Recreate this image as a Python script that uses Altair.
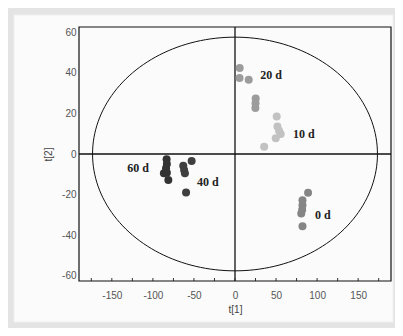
import altair as alt
import numpy as np
import pandas as pd

# ---- data ----
groups = ["20 d"] * 6 + ["10 d"] * 6 + ["0 d"] * 6 + ["60 d"] * 6 + ["40 d"] * 5
t1 = [5.7, 5.5, 16.7, 25.2, 25.0, 24.8,
      50.8, 51.7, 55.7, 49.6, 35.5, 53.7,
      89.0, 82.2, 82.2, 81.8, 80.7, 82.2,
      -83.3, -83.0, -86.6, -83.0, -81.2, -84.0,
      -63.0, -62.0, -61.0, -52.8, -59.6]
t2 = [42.3, 37.4, 36.5, 27.3, 25.0, 22.6,
      18.4, 13.5, 9.9, 7.7, 3.6, 11.5,
      -19.1, -22.7, -25.2, -27.4, -29.3, -35.6,
      -2.6, -4.9, -9.5, -9.2, -12.8, -7.0,
      -5.8, -7.9, -9.5, -3.5, -18.9]

group_order = ["20 d", "10 d", "0 d", "60 d", "40 d"]
group_colors = ["#9c9c9c", "#c2c2c2", "#858585", "#333333", "#3f3f3f"]

label_text = ["20 d", "10 d", "0 d", "60 d", "40 d"]
label_x = [44, 84, 107, -118, -33]
label_y = [39, 10, -30, -7, -14]

ellipse_a = 173.5   # semi-axis along t[1]
ellipse_b = 57.5    # semi-axis along t[2]

x_ticks = [-175, -150, -125, -100, -75, -50, -25, 0, 25, 50, 75, 100, 125, 150, 175]
x_labels = [-150, -100, -50, 0, 50, 100, 150]
y_labels = [-60, -40, -20, 0, 20, 40, 60]

W, H = 312, 254
xdom = [-190, 190]
ydom = [-62.5, 62.5]

pts = pd.DataFrame({"t1": t1, "t2": t2, "g": groups})
labs = pd.DataFrame({"x": label_x, "y": label_y, "text": label_text})
theta = np.linspace(0, 2 * np.pi, 181)
ell = pd.DataFrame({"x": ellipse_a * np.cos(theta), "y": ellipse_b * np.sin(theta), "o": np.arange(len(theta))})
ticks = pd.DataFrame({"x": x_ticks})

xs = alt.Scale(domain=xdom, nice=False, zero=False)
ys = alt.Scale(domain=ydom, nice=False, zero=False)

panel = alt.Chart(pd.DataFrame({"a": [0]})).mark_rect(
    fill="#fbfbfb", stroke="#f0f0f0", clip=False
).encode(x=alt.value(-65), x2=alt.value(314), y=alt.value(-12), y2=alt.value(295))

ellipse = alt.Chart(ell).mark_line(color="#111111", strokeWidth=1, clip=True).encode(
    x=alt.X("x:Q", scale=xs,
            axis=alt.Axis(values=x_labels, title="t[1]", ticks=False, domain=False, grid=False,
                          labelExpr="'' + datum.value",
                          labelColor="#555555", labelFontSize=10, labelFont="Liberation Sans",
                          labelPadding=9, titleFontSize=10, titleFont="Liberation Sans",
                          titleColor="#444444", titleFontWeight="normal", titlePadding=4, zindex=2)),
    y=alt.Y("y:Q", scale=ys,
            axis=alt.Axis(values=y_labels, title="t[2]", ticks=False, domain=False, grid=False,
                          labelExpr="'' + datum.value",
                          labelColor="#555555", labelFontSize=10, labelFont="Liberation Sans",
                          labelPadding=3, titleFontSize=10, titleFont="Liberation Sans",
                          titleColor="#444444", titleFontWeight="normal", titlePadding=8, zindex=2)),
    order="o:Q",
)

vline = alt.Chart(pd.DataFrame({"x": [0]})).mark_rule(color="#111111", strokeWidth=1.3).encode(
    x=alt.X("x:Q", scale=xs))
hline = alt.Chart(pd.DataFrame({"y": [0]})).mark_rule(color="#111111", strokeWidth=1.3).encode(
    y=alt.Y("y:Q", scale=ys))

points = alt.Chart(pts).mark_circle(size=64, opacity=1).encode(
    x=alt.X("t1:Q", scale=xs),
    y=alt.Y("t2:Q", scale=ys),
    color=alt.Color("g:N", scale=alt.Scale(domain=group_order, range=group_colors), legend=None),
)

labels = alt.Chart(labs).mark_text(
    font="Liberation Serif", fontWeight="bold", fontSize=12, color="#222222", align="center", baseline="middle"
).encode(x=alt.X("x:Q", scale=xs), y=alt.Y("y:Q", scale=ys), text="text:N")

xt = alt.Chart(ticks).mark_rule(color="#333333", strokeWidth=1).encode(
    x=alt.X("x:Q", scale=xs), y=alt.value(H), y2=alt.value(H - 3))

frame = alt.Chart(pd.DataFrame({"a": [0]})).mark_rect(
    filled=False, stroke="#111111", strokeWidth=1.2, clip=False
).encode(x=alt.value(0), x2=alt.value(W), y=alt.value(0), y2=alt.value(H))

chart = alt.layer(panel, ellipse, vline, hline, points, labels, xt, frame).properties(
    width=W, height=H,
    padding={"left": 71, "top": 19, "right": 4, "bottom": 47},
    autosize=alt.AutoSizeParams(type="none"),
    background="#e4e4e4",
).configure_view(strokeWidth=0)

chart.save("out.html", embed_options={"renderer": "svg", "actions": False})
